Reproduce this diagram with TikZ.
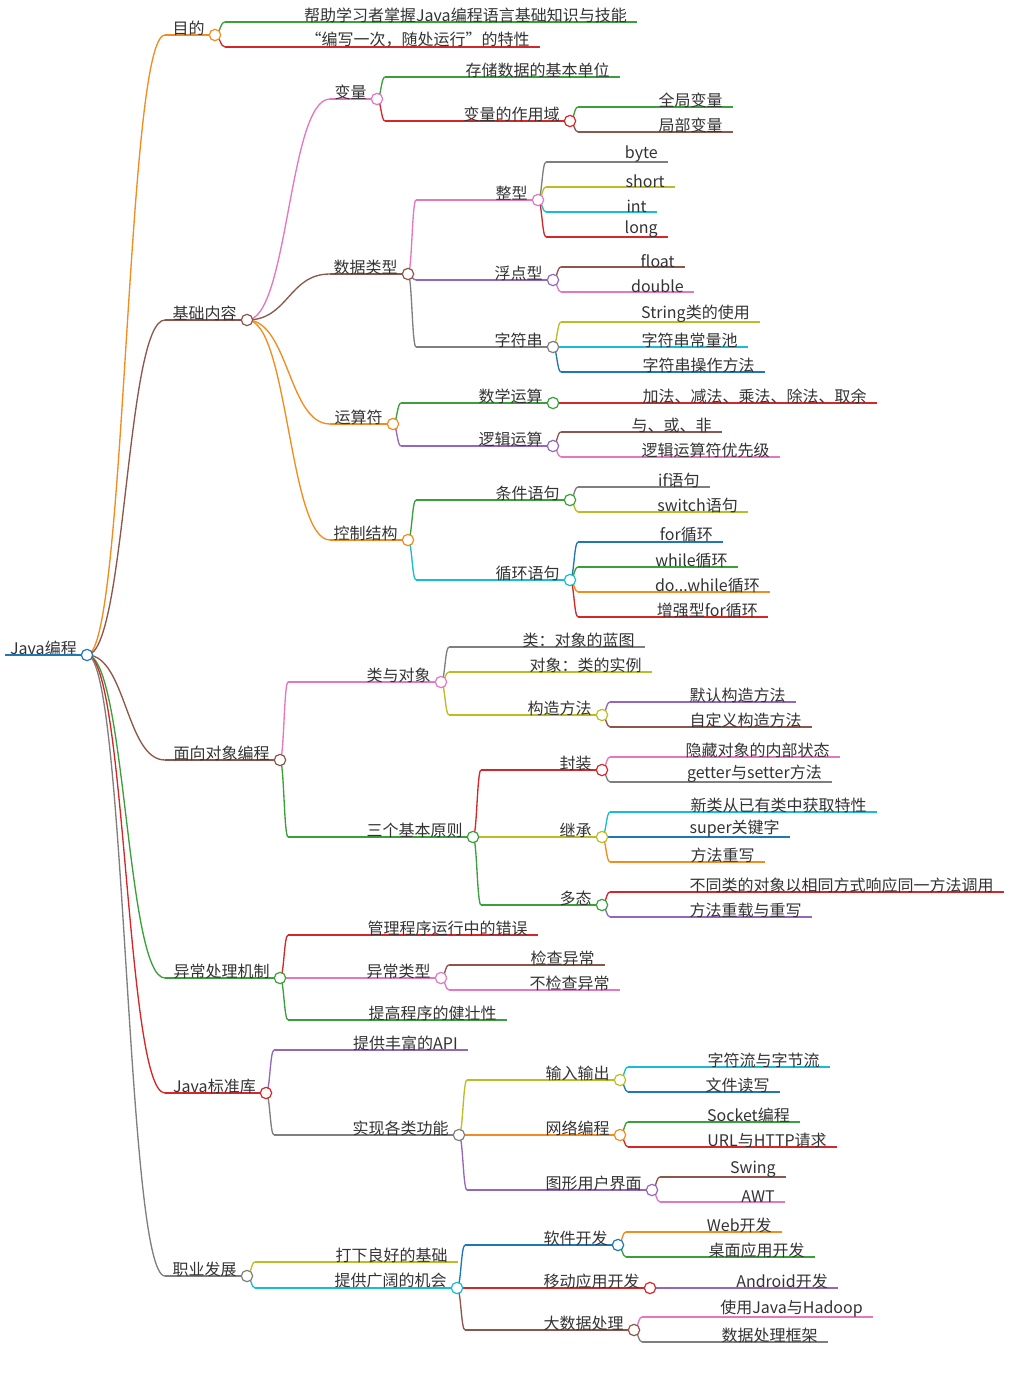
\documentclass[tikz,border=0pt]{standalone}
\usepackage{fontspec}
\setmainfont{Noto Sans CJK SC}
\usetikzlibrary{calc}
\definecolor{cor}{HTML}{F28C1E}
\definecolor{cgr}{HTML}{3AA03A}
\definecolor{cre}{HTML}{D62728}
\definecolor{cbr}{HTML}{8C564B}
\definecolor{cpk}{HTML}{E377C2}
\definecolor{cgy}{HTML}{7F7F7F}
\definecolor{col}{HTML}{BCBD22}
\definecolor{ccy}{HTML}{17BECF}
\definecolor{cbl}{HTML}{1F77B4}
\definecolor{cpu}{HTML}{9467BD}
% topic: name, x start, x end, y, colour, text
\newcommand{\topic}[6]{%
  \coordinate (#1-s) at (#2,#4); \coordinate (#1) at (#3,#4);
  \draw[#5, uline] (#1-s) -- (#1);
  \node[lbl, anchor=south east] (#1-t) at ([xshift=-7.5pt,yshift=-0.5pt]#1) {#6};}
% branch: parent, child, colour
\newcommand{\branch}[3]{%
  \coordinate (mid) at ($(#1)!0.5!(#2-s)$);
  \draw[#3, uline] (#1) .. controls (mid |- #1) and (mid |- #2-s) .. (#2-s);}
\newcommand{\knob}[2]{\node[knobdot, draw=#2] at (#1) {};}
\begin{document}
\begin{tikzpicture}[x=0.75pt, y=-0.75pt,
  uline/.style={line width=1pt},
  lbl/.style={inner sep=0pt, font=\fontsize{12}{14}\selectfont, text=black!80},
  knobdot/.style={circle, fill=white, line width=0.9pt, minimum size=8.5pt, inner sep=0pt}
]
\useasboundingbox (0,0) rectangle (1009,1385);
\topic{root}{5}{87}{655}{cbl}{Java编程}
\draw[cbl, line width=2.2pt] (root-s) -- (root);
% 目的
\topic{aim}{165}{215}{35}{cor}{目的}
\topic{aim1}{225}{637}{22}{cgr}{帮助学习者掌握Java编程语言基础知识与技能}
\topic{aim2}{225}{540}{47}{cre}{“编写一次，随处运行”的特性}
% 基础内容
\topic{base}{165}{247}{320}{cbr}{基础内容}
\topic{var}{330}{377}{99}{cpk}{变量}
\topic{var1}{385}{620}{77}{cgr}{存储数据的基本单位}
\topic{var2}{385}{570}{121}{cre}{变量的作用域}
\topic{glob}{578}{733}{107}{cgr}{全局变量}
\topic{loc}{578}{733}{132}{cbr}{局部变量}
\topic{dtype}{330}{408}{274}{cbr}{数据类型}
\topic{intg}{416}{538}{200}{cpk}{整型}
\topic{byte}{546}{668}{162}{cgy}{byte}
\topic{short}{546}{675}{187}{col}{short}
\topic{int}{546}{657}{212}{ccy}{int}
\topic{long}{546}{668}{237}{cre}{long}
\topic{flt}{416}{553}{280}{cpu}{浮点型}
\topic{float}{561}{685}{267}{cbr}{float}
\topic{double}{561}{694}{292}{cpk}{double}
\topic{str}{416}{553}{347}{cgy}{字符串}
\topic{str1}{561}{760}{322}{col}{String类的使用}
\topic{str2}{561}{748}{347}{ccy}{字符串常量池}
\topic{str3}{561}{765}{372}{cbl}{字符串操作方法}
\topic{op}{330}{393}{424}{cor}{运算符}
\topic{math}{401}{553}{403}{cgr}{数学运算}
\topic{math1}{561}{877}{403}{cre}{加法、减法、乘法、除法、取余}
\topic{logic}{401}{553}{446}{cpu}{逻辑运算}
\topic{logic1}{561}{722}{432}{cbr}{与、或、非}
\topic{logic2}{561}{780}{457}{cpk}{逻辑运算符优先级}
\topic{ctrl}{330}{408}{540}{cor}{控制结构}
\topic{cond}{416}{570}{500}{cgr}{条件语句}
\topic{if}{578}{710}{487}{cgy}{if语句}
\topic{sw}{578}{748}{512}{col}{switch语句}
\topic{loop}{416}{570}{580}{ccy}{循环语句}
\topic{for}{578}{723}{542}{cbl}{for循环}
\topic{while}{578}{738}{567}{cgr}{while循环}
\topic{dowhile}{578}{770}{592}{cor}{do...while循环}
\topic{foreach}{578}{768}{617}{cre}{增强型for循环}
% 面向对象编程
\topic{oop}{165}{280}{760}{cbr}{面向对象编程}
\topic{cls}{288}{441}{682}{cpk}{类与对象}
\topic{cls1}{449}{645}{647}{cgy}{类：对象的蓝图}
\topic{cls2}{449}{652}{672}{col}{对象：类的实例}
\topic{ctor}{449}{602}{715}{col}{构造方法}
\topic{ctor1}{610}{796}{702}{cpu}{默认构造方法}
\topic{ctor2}{610}{812}{727}{cbr}{自定义构造方法}
\topic{prin}{288}{473}{837}{cgr}{三个基本原则}
\topic{enc}{481}{602}{770}{cre}{封装}
\topic{enc1}{610}{840}{757}{cpk}{隐藏对象的内部状态}
\topic{enc2}{610}{832}{782}{cgy}{getter与setter方法}
\topic{inh}{481}{602}{837}{col}{继承}
\topic{inh1}{610}{877}{812}{ccy}{新类从已有类中获取特性}
\topic{inh2}{610}{790}{837}{cbl}{super关键字}
\topic{inh3}{610}{765}{862}{cor}{方法重写}
\topic{poly}{481}{602}{905}{cgr}{多态}
\topic{poly1}{610}{1004}{892}{cre}{不同类的对象以相同方式响应同一方法调用}
\topic{poly2}{610}{812}{917}{cpu}{方法重载与重写}
% 异常处理机制
\topic{exc}{165}{280}{978}{cgr}{异常处理机制}
\topic{exc1}{288}{538}{935}{cre}{管理程序运行中的错误}
\topic{exct}{288}{441}{978}{cpk}{异常类型}
\topic{chk}{449}{605}{965}{cbr}{检查异常}
\topic{unchk}{449}{620}{990}{cpk}{不检查异常}
\topic{exc3}{288}{507}{1020}{cgr}{提高程序的健壮性}
% Java标准库
\topic{lib}{165}{266}{1093}{cre}{Java标准库}
\topic{api}{274}{468}{1050}{cpu}{提供丰富的API}
\topic{func}{274}{459}{1135}{cgy}{实现各类功能}
\topic{io}{467}{620}{1080}{col}{输入输出}
\topic{io1}{628}{830}{1067}{ccy}{字符流与字节流}
\topic{io2}{628}{780}{1092}{cbl}{文件读写}
\topic{net}{467}{620}{1135}{cor}{网络编程}
\topic{net1}{628}{800}{1122}{cgr}{Socket编程}
\topic{net2}{628}{837}{1147}{cre}{URL与HTTP请求}
\topic{gui}{467}{652}{1190}{cpu}{图形用户界面}
\topic{swing}{660}{786}{1177}{cbr}{Swing}
\topic{awt}{660}{785}{1202}{cpk}{AWT}
% 职业发展
\topic{car}{165}{247}{1276}{cgy}{职业发展}
\topic{car1}{255}{458}{1262}{col}{打下良好的基础}
\topic{opp}{255}{457}{1288}{ccy}{提供广阔的机会}
\topic{sd}{465}{618}{1245}{cbl}{软件开发}
\topic{web}{626}{782}{1232}{cor}{Web开发}
\topic{desk}{626}{815}{1257}{cgr}{桌面应用开发}
\topic{mob}{465}{650}{1288}{cre}{移动应用开发}
\topic{andr}{658}{838}{1288}{cpu}{Android开发}
\topic{big}{465}{634}{1330}{cbr}{大数据处理}
\topic{big1}{642}{873}{1317}{cpk}{使用Java与Hadoop}
\topic{big2}{642}{828}{1342}{cgy}{数据处理框架}
% branches
\branch{root}{aim}{cor} \branch{aim}{aim1}{cgr} \branch{aim}{aim2}{cre}
\branch{root}{base}{cbr}
\branch{base}{var}{cpk} \branch{var}{var1}{cgr} \branch{var}{var2}{cre}
\branch{var2}{glob}{cgr} \branch{var2}{loc}{cbr}
\branch{base}{dtype}{cbr}
\branch{dtype}{intg}{cpk} \branch{intg}{byte}{cgy} \branch{intg}{short}{col}
\branch{intg}{int}{ccy} \branch{intg}{long}{cre}
\branch{dtype}{flt}{cpu} \branch{flt}{float}{cbr} \branch{flt}{double}{cpk}
\branch{dtype}{str}{cgy} \branch{str}{str1}{col} \branch{str}{str2}{ccy} \branch{str}{str3}{cbl}
\branch{base}{op}{cor}
\branch{op}{math}{cgr} \branch{math}{math1}{cre}
\branch{op}{logic}{cpu} \branch{logic}{logic1}{cbr} \branch{logic}{logic2}{cpk}
\branch{base}{ctrl}{cor}
\branch{ctrl}{cond}{cgr} \branch{cond}{if}{cgy} \branch{cond}{sw}{col}
\branch{ctrl}{loop}{ccy} \branch{loop}{for}{cbl} \branch{loop}{while}{cgr}
\branch{loop}{dowhile}{cor} \branch{loop}{foreach}{cre}
\branch{root}{oop}{cbr}
\branch{oop}{cls}{cpk} \branch{cls}{cls1}{cgy} \branch{cls}{cls2}{col} \branch{cls}{ctor}{col}
\branch{ctor}{ctor1}{cpu} \branch{ctor}{ctor2}{cbr}
\branch{oop}{prin}{cgr}
\branch{prin}{enc}{cre} \branch{enc}{enc1}{cpk} \branch{enc}{enc2}{cgy}
\branch{prin}{inh}{col} \branch{inh}{inh1}{ccy} \branch{inh}{inh2}{cbl} \branch{inh}{inh3}{cor}
\branch{prin}{poly}{cgr} \branch{poly}{poly1}{cre} \branch{poly}{poly2}{cpu}
\branch{root}{exc}{cgr}
\branch{exc}{exc1}{cre} \branch{exc}{exct}{cpk} \branch{exc}{exc3}{cgr}
\branch{exct}{chk}{cbr} \branch{exct}{unchk}{cpk}
\branch{root}{lib}{cre}
\branch{lib}{api}{cpu} \branch{lib}{func}{cgy}
\branch{func}{io}{col} \branch{io}{io1}{ccy} \branch{io}{io2}{cbl}
\branch{func}{net}{cor} \branch{net}{net1}{cgr} \branch{net}{net2}{cre}
\branch{func}{gui}{cpu} \branch{gui}{swing}{cbr} \branch{gui}{awt}{cpk}
\branch{root}{car}{cgy}
\branch{car}{car1}{col} \branch{car}{opp}{ccy}
\branch{opp}{sd}{cbl} \branch{sd}{web}{cor} \branch{sd}{desk}{cgr}
\branch{opp}{mob}{cre} \branch{mob}{andr}{cpu}
\branch{opp}{big}{cbr} \branch{big}{big1}{cpk} \branch{big}{big2}{cgy}
% knobs
\knob{root}{cbl} \knob{aim}{cor} \knob{base}{cbr} \knob{var}{cpk} \knob{var2}{cre}
\knob{dtype}{cbr} \knob{intg}{cpk} \knob{flt}{cpu} \knob{str}{cgy}
\knob{op}{cor} \knob{math}{cgr} \knob{logic}{cpu} \knob{ctrl}{cor} \knob{cond}{cgr} \knob{loop}{ccy}
\knob{oop}{cbr} \knob{cls}{cpk} \knob{ctor}{col} \knob{prin}{cgr} \knob{enc}{cre} \knob{inh}{col} \knob{poly}{cgr}
\knob{exc}{cgr} \knob{exct}{cpk} \knob{lib}{cre} \knob{func}{cgy} \knob{io}{col} \knob{net}{cor} \knob{gui}{cpu}
\knob{car}{cgy} \knob{opp}{ccy} \knob{sd}{cbl} \knob{mob}{cre} \knob{big}{cbr}
\end{tikzpicture}
\end{document}
